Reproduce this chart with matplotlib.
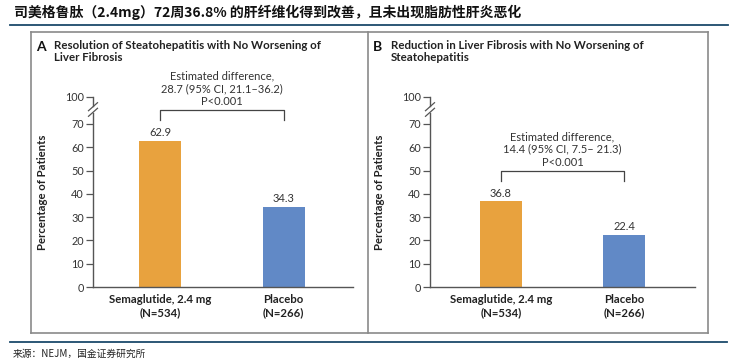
import matplotlib
matplotlib.use("Agg")
import matplotlib.pyplot as plt

# ---------------- data ----------------
categories = ["Semaglutide, 2.4 mg\n(N=534)", "Placebo\n(N=266)"]
panel_letters = ["A", "B"]
panel_titles = ["Resolution of Steatohepatitis with No Worsening of\nLiver Fibrosis",
                "Reduction in Liver Fibrosis with No Worsening of\nSteatohepatitis"]
values_a = [62.9, 34.3]
values_b = [36.8, 22.4]
diff_texts = ["Estimated difference,\n28.7 (95% CI, 21.1\u201336.2)\nP<0.001",
              "Estimated difference,\n14.4 (95% CI, 7.5\u2013 21.3)\nP<0.001"]
ytick_values = [0, 10, 20, 30, 40, 50, 60, 70]
ytick_top_label = "100"
ylabel = "Percentage of Patients"
main_title = "司美格鲁肽（2.4mg）72周36.8% 的肝纤维化得到改善，且未出现脂肪性肝炎恶化"
source_text = "来源：NEJM，国金证券研究所"

# ---------------- style ----------------
W, H = 737, 364
ORANGE = "#E8A23E"
BLUE = "#6189C6"
RULE = "#1B4A6B"
BOX = "#8A8A8A"
AX = "#555555"
TXT = "#333333"
FONT = ["Lato", "DejaVu Sans"]
CJK = ["Noto Sans CJK SC", "DejaVu Sans"]

plt.rcParams["font.family"] = FONT

fig = plt.figure(figsize=(W / 100, H / 100), dpi=100)


def fx(x):
    return x / W


def fy(y):
    return 1 - y / H


def hline(x0, x1, y, **kw):
    fig.add_artist(plt.Line2D([fx(x0), fx(x1)], [fy(y), fy(y)], transform=fig.transFigure, **kw))


def vline(x, y0, y1, **kw):
    fig.add_artist(plt.Line2D([fx(x), fx(x)], [fy(y0), fy(y1)], transform=fig.transFigure, **kw))


# header / footer
fig.text(fx(14), fy(12), main_title, family=CJK, fontsize=10, fontweight="bold",
         color="#111111", va="center", ha="left")
hline(10, 728, 25, color=RULE, lw=1.3)
hline(10, 727, 342, color=RULE, lw=1.3)
fig.text(fx(13), fy(354), source_text, family=CJK, fontsize=7, color="#222222",
         va="center", ha="left")

# panel frame
hline(31, 708, 32, color=BOX, lw=1.2)
hline(31, 708, 333, color=BOX, lw=1.2)
vline(31, 32, 333, color=BOX, lw=1.2)
vline(708, 32, 333, color=BOX, lw=1.2)
vline(368, 32, 333, color=BOX, lw=1.2)

PX_PER_UNIT = (287 - 124) / 70.0
TOP_POS = (287 - 97) / PX_PER_UNIT  # position of the "100" tick on broken axis
GAP_LO = (287 - 113) / PX_PER_UNIT
GAP_HI = (287 - 106) / PX_PER_UNIT

panels = [
    dict(ax_left=93, ax_right=353, centers_px=(160, 283.5), box_left=31,
         values=values_a),
    dict(ax_left=430, ax_right=695, centers_px=(501, 624), box_left=368,
         values=values_b),
]

for k, p in enumerate(panels):
    left, right = p["ax_left"], p["ax_right"]
    ax = fig.add_axes([fx(left), fy(287), (right - left) / W, (287 - 97) / H])
    c0, c1 = p["centers_px"]
    step = c1 - c0
    ax.set_xlim(-(c0 - left) / step, 1 + (right - c1) / step)
    ax.set_ylim(0, TOP_POS)
    vals = p["values"]
    xs = list(range(len(categories)))
    ax.bar(xs, vals, width=42 / step, color=[ORANGE, BLUE], zorder=2)
    for x, v in zip(xs, vals):
        ax.annotate(f"{v}", (x, v), xytext=(0, 2), textcoords="offset points",
                    ha="center", va="bottom", fontsize=8, color=TXT)

    # spines
    for s in ("top", "right", "left"):
        ax.spines[s].set_visible(False)
    ax.spines["bottom"].set_color(AX)
    ax.spines["bottom"].set_linewidth(1.0)
    yt = ax.get_yaxis_transform()
    ax.plot([0, 0], [0, GAP_LO], transform=yt, color=AX, lw=1.0, clip_on=False)
    ax.plot([0, 0], [GAP_HI, TOP_POS], transform=yt, color=AX, lw=1.0, clip_on=False)
    dx = 4.5 / (right - left)
    dy = 4.0 / PX_PER_UNIT
    for yc in (GAP_LO + 0.3, GAP_HI - 0.3):
        ax.plot([-dx, dx], [yc - dy, yc + dy], transform=yt, color=AX, lw=0.9, clip_on=False)

    ax.set_yticks(ytick_values + [TOP_POS])
    ax.set_yticklabels([str(t) for t in ytick_values] + [ytick_top_label])
    ax.tick_params(axis="y", length=5, width=0.9, color=AX, pad=1.5, labelsize=7.8,
                   labelcolor=TXT)
    ax.set_xticks(xs)
    ax.set_xticklabels(categories, fontweight="bold", fontsize=8.2, color="#222222",
                       linespacing=1.25)
    ax.tick_params(axis="x", length=0, pad=5)
    ax.set_ylabel(ylabel, fontweight="bold", fontsize=8.2, color="#222222")
    ax.yaxis.set_label_coords(-(left - (p["box_left"] + 17)) / (right - left), 0.5)

    # bracket
    hi = max(vals) + 13.0
    lo = hi - 4.2
    ax.plot([0, 0, 1, 1], [lo, hi, hi, lo], color="#444444", lw=0.9, clip_on=False)
    ax.annotate(diff_texts[k], (0.5, hi), xytext=(0, 2.5), textcoords="offset points",
                ha="center", va="bottom", fontsize=8, color=TXT, linespacing=1.2,
                annotation_clip=False)

    # panel title
    bl = p["box_left"]
    fig.text(fx(bl + 5), fy(47), panel_letters[k], fontsize=10, fontweight="bold",
             color="#111111", va="center", ha="left")
    fig.text(fx(bl + 23), fy(40), panel_titles[k], fontsize=8.3, fontweight="bold",
             color="#222222", va="top", ha="left", linespacing=1.15)

fig.savefig("out.png", dpi=100)
